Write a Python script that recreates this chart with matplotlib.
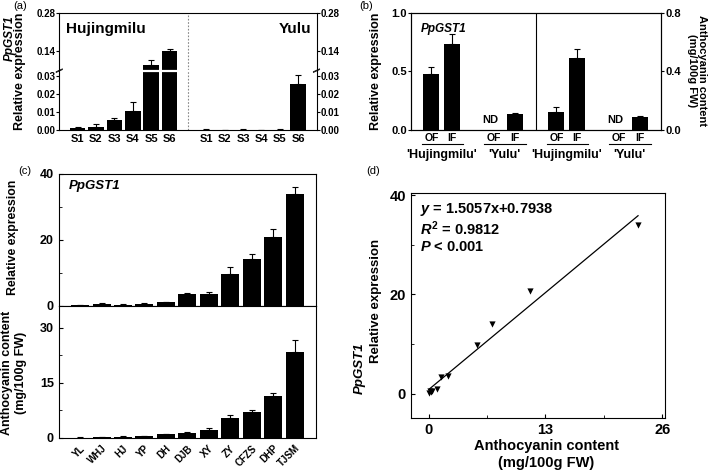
import numpy as np
import matplotlib
matplotlib.use('Agg')
import matplotlib.pyplot as plt
import matplotlib.transforms as mtransforms
from matplotlib.ticker import FixedLocator

plt.rcParams['font.family'] = ['Liberation Sans', 'DejaVu Sans']
plt.rcParams['font.weight'] = 'bold'
plt.rcParams['axes.linewidth'] = 0.8
plt.rcParams['mathtext.fontset'] = 'custom'
plt.rcParams['mathtext.rm'] = 'Liberation Sans:bold'
plt.rcParams['mathtext.it'] = 'Liberation Sans:italic:bold'
plt.rcParams['mathtext.bf'] = 'Liberation Sans:bold'

# ---------------- data ----------------
# (a) PpGST1 expression during fruit development
stages = ['S1', 'S2', 'S3', 'S4', 'S5', 'S6']
a_huj = [0.0012, 0.0018, 0.0054, 0.0105, 0.088, 0.141]
a_huj_err = [0.0005, 0.0015, 0.0014, 0.0050, 0.019, 0.007]
a_yulu = [0.0002, 0.0001, 0.0002, 0.0001, 0.0002, 0.0255]
a_yulu_err = [0.0001, 0.0001, 0.0001, 0.0001, 0.0001, 0.0055]
a_ticks = [0.0, 0.01, 0.02, 0.03, 0.14, 0.28]
a_ticklabels = ['0.00', '0.01', '0.02', '0.03', '0.14', '0.28']

# (b) outer (OF) / inner (IF) flesh
b_groups = ["'Hujingmilu'", "'Yulu'"]
b_tissues = ['OF', 'IF', 'OF', 'IF']
b_expr = [0.48, 0.73, np.nan, 0.135]
b_expr_err = [0.055, 0.085, np.nan, 0.012]
b_antho = [0.125, 0.49, np.nan, 0.09]
b_antho_err = [0.035, 0.065, np.nan, 0.008]

# (c) cultivars
cultivars = ['YL', 'WHJ', 'HJ', 'YP', 'DH', 'DJB', 'XY', 'ZY', 'CFZS', 'DHP', 'TJSM']
c_expr = [0.1, 0.55, 0.3, 0.5, 1.0, 3.4, 3.5, 9.7, 14.1, 20.7, 34.0]
c_expr_err = [0.05, 0.15, 0.08, 0.12, 0.15, 0.35, 0.6, 2.1, 1.5, 2.6, 1.9]
c_antho = [0.05, 0.2, 0.3, 0.35, 0.95, 1.4, 2.1, 5.4, 7.0, 11.3, 23.3]
c_antho_err = [0.02, 0.05, 0.06, 0.06, 0.1, 0.15, 0.5, 0.7, 0.6, 1.0, 3.4]

# (d) regression
fit_slope = 1.5057
fit_intercept = 0.7938
fit_r2 = 0.9812

# ---------------- layout helpers ----------------
W, H = 709, 473
fig = plt.figure(figsize=(W / 100, H / 100), dpi=100)


def rect(l, t, r, b):
    return [l / W, 1 - b / H, (r - l) / W, (b - t) / H]


def ftext(x, y, s, **kw):
    kw.setdefault('ha', 'center')
    kw.setdefault('va', 'center')
    return fig.text(x / W, 1 - y / H, s, **kw)


ekw = dict(ecolor='black', elinewidth=0.8, capsize=2, capthick=0.8)

# ---------------- (a) ----------------
axa = fig.add_axes(rect(59.3, 12.7, 316.5, 130))
b_lo, b_hi, f_lo, f_hi, ytop = 0.033, 0.0685, 0.503, 0.509, 0.28


def fwd(v):
    v = np.asarray(v, dtype=float)
    return np.where(v <= b_lo, v / b_lo * f_lo,
                    np.where(v >= b_hi, f_hi + (v - b_hi) / (ytop - b_hi) * (1 - f_hi),
                             f_lo + (v - b_lo) / (b_hi - b_lo) * (f_hi - f_lo)))


def inv(f):
    f = np.asarray(f, dtype=float)
    return np.where(f <= f_lo, f / f_lo * b_lo,
                    np.where(f >= f_hi, b_hi + (f - f_hi) / (1 - f_hi) * (ytop - b_hi),
                             b_lo + (f - f_lo) / (f_hi - f_lo) * (b_hi - b_lo)))


axa.set_yscale('function', functions=(fwd, inv))
pos_h = np.arange(1, 7)
pos_y = np.arange(8, 14)
axa.bar(pos_h, a_huj, width=0.85, color='black', yerr=[np.zeros(6), a_huj_err], error_kw=ekw)
axa.bar(pos_y, a_yulu, width=0.85, color='black', yerr=[np.zeros(6), a_yulu_err], error_kw=ekw)
axa.set_xlim(0, 14)
axa.set_ylim(0, ytop)
axa.axvline(7, color='#888888', lw=0.8, ls=(0, (1.5, 1.5)))
axa.axhline(0.05, color='white', lw=1.6, zorder=2)
axa.set_yticks(a_ticks)
axa.set_yticklabels(a_ticklabels)
axa.yaxis.set_minor_locator(FixedLocator([]))
axa.tick_params(axis='y', which='both', direction='out', length=2, width=0.8, labelsize=7,
                right=True, labelright=True, pad=1)
axa.set_xticks(np.concatenate([pos_h, pos_y]))
axa.set_xticklabels(stages + stages)
axa.tick_params(axis='x', length=0, labelsize=8, pad=3)
for xs in (0, 1):
    for f in (f_lo, f_hi):
        axa.plot([xs - 0.012, xs + 0.012], [f - 0.012, f + 0.012], color='black', lw=0.6,
                 transform=axa.transAxes, clip_on=False)
axa.text(0.025, 0.86, 'Hujingmilu', transform=axa.transAxes, fontsize=11, ha='left', va='center')
axa.text(0.98, 0.86, 'Yulu', transform=axa.transAxes, fontsize=11, ha='right', va='center')
ftext(10, 15, 'PpGST1', rotation=90, rotation_mode='anchor', fontsize=8.5, style='italic',
      ha='right', va='center')
ftext(20.5, 71, 'Relative expression', rotation=90, fontsize=9)
ftext(20, 6, '(a)', fontsize=8, weight='normal')

# ---------------- (b) ----------------
axb = fig.add_axes(rect(411, 12.7, 661, 130))
axb2 = axb.twinx()
half = 6.15
pos_l = np.array([1.0, 2.0, 4.05, 5.1])
pos_r = pos_l + half
axb.bar(pos_l, b_expr, width=0.78, color='black',
        yerr=[np.zeros(4), b_expr_err], error_kw=ekw)
axb2.bar(pos_r, b_antho, width=0.78, color='black',
         yerr=[np.zeros(4), b_antho_err], error_kw=ekw)
axb.set_xlim(0, 2 * half)
axb.set_ylim(0, 1.0)
axb2.set_ylim(0, 0.8)
axb.axvline(half, color='black', lw=0.8)
axb.set_yticks([0, 0.5, 1.0])
axb.set_yticklabels(['0.0', '0.5', '1.0'])
axb2.set_yticks([0, 0.4, 0.8])
axb2.set_yticklabels(['0.0', '0.4', '0.8'])
axb.tick_params(axis='y', direction='out', length=2, width=0.8, labelsize=8, pad=1)
axb2.tick_params(axis='y', direction='out', length=2, width=0.8, labelsize=8, pad=1)
axb.set_xticks(np.concatenate([pos_l, pos_r]))
axb.set_xticklabels(b_tissues + b_tissues)
axb.tick_params(axis='x', length=0, labelsize=7.5, pad=2.5)
tr = mtransforms.blended_transform_factory(axb.transData, axb.transAxes)
allpos = np.concatenate([pos_l, pos_r])
allvals = list(b_expr) + list(b_antho)
for gi in range(4):
    p_of, p_if = allpos[2 * gi], allpos[2 * gi + 1]
    axb.plot([p_of - 0.45, p_if + 0.55], [-0.12, -0.12], color='black', lw=0.8,
             transform=tr, clip_on=False)
    axb.text((p_of + p_if) / 2, -0.215, b_groups[gi % 2], transform=tr, fontsize=9,
             ha='center', va='center')
for p, v in zip(allpos, allvals):
    if np.isnan(v):
        axb.text(p - 0.15, 0.085, 'ND', transform=tr, fontsize=8, ha='center', va='center')
axb.text(0.04, 0.86, 'PpGST1', transform=axb.transAxes, fontsize=8.5, style='italic',
         ha='left', va='center')
ftext(376, 71, 'Relative expression', rotation=90, fontsize=9)
ftext(697, 71, 'Anthocyanin content\n(mg/100g FW)', rotation=-90, fontsize=8,
      linespacing=1.1)
ftext(366, 6, '(b)', fontsize=8, weight='normal')

# ---------------- (c) ----------------
axc1 = fig.add_axes(rect(58.7, 174, 316, 305.5))
axc2 = fig.add_axes(rect(58.7, 305.5, 316, 437.7))
xc = np.arange(len(cultivars))
axc1.bar(xc, c_expr, width=0.84, color='black',
         yerr=[np.zeros(len(xc)), c_expr_err], error_kw=ekw)
axc2.bar(xc, c_antho, width=0.84, color='black',
         yerr=[np.zeros(len(xc)), c_antho_err], error_kw=ekw)
for ax in (axc1, axc2):
    ax.set_xlim(-1, 11)
    ax.set_xticks(xc)
    ax.tick_params(axis='x', length=0)
    ax.tick_params(axis='y', which='major', direction='in', length=3, width=0.8, labelsize=9)
    ax.tick_params(axis='y', which='minor', direction='in', length=2, width=0.6)
axc1.set_ylim(0, 40)
axc1.set_yticks([0, 20, 40])
axc1.yaxis.set_minor_locator(FixedLocator([10, 30]))
axc1.set_xticklabels([])
axc2.set_ylim(0, 36)
axc2.set_yticks([0, 15, 30])
axc2.yaxis.set_minor_locator(FixedLocator([7.5, 22.5]))
axc2.set_xticklabels(cultivars, rotation=45, ha='right', va='top', rotation_mode='anchor',
                     fontsize=7)
axc2.tick_params(axis='x', pad=4)
axc1.text(0.04, 0.91, 'PpGST1', transform=axc1.transAxes, fontsize=9.5, style='italic',
          ha='left', va='center')
ftext(13, 237, 'Relative expression', rotation=90, fontsize=8.8)
ftext(14, 373, 'Anthocyanin content\n(mg/100g FW)', rotation=90, fontsize=9,
      linespacing=1.15)
ftext(25, 171, '(c)', fontsize=8, weight='normal')

# ---------------- (d) ----------------
axd = fig.add_axes(rect(410.7, 193.3, 665, 418.3))
axd.scatter(c_antho, c_expr, marker='v', s=20, color='black', linewidths=0, zorder=3)
xl = np.array([min(c_antho), max(c_antho)])
axd.plot(xl, fit_slope * xl + fit_intercept, color='black', lw=0.9)
axd.set_xlim(-2, 26.3)
axd.set_ylim(-5, 40.4)
axd.set_xticks([0, 13, 26])
axd.set_yticks([0, 20, 40])
axd.xaxis.set_minor_locator(FixedLocator([6.5, 19.5]))
axd.yaxis.set_minor_locator(FixedLocator([10, 30]))
axd.tick_params(which='major', direction='in', length=3, width=0.8, labelsize=10.5)
axd.tick_params(which='minor', direction='in', length=2, width=0.6)
ftext(420, 209, r'$y$ = %.4fx+%.4f' % (fit_slope, fit_intercept), ha='left', fontsize=10.5)
ftext(420, 229, r'$R^2$ = %.4f' % fit_r2, ha='left', fontsize=10.5)
ftext(420, 247, r'$P$ < 0.001', ha='left', fontsize=10.5)
ftext(360, 368, 'PpGST1', rotation=90, fontsize=9.5, style='italic')
ftext(376, 301, 'Relative expression', rotation=90, fontsize=9.5)
ftext(546, 446, 'Anthocyanin content', fontsize=10.5)
ftext(546, 463, '(mg/100g FW)', fontsize=10.5)
ftext(373, 171, '(d)', fontsize=8, weight='normal')

fig.savefig('out.png', dpi=100)
